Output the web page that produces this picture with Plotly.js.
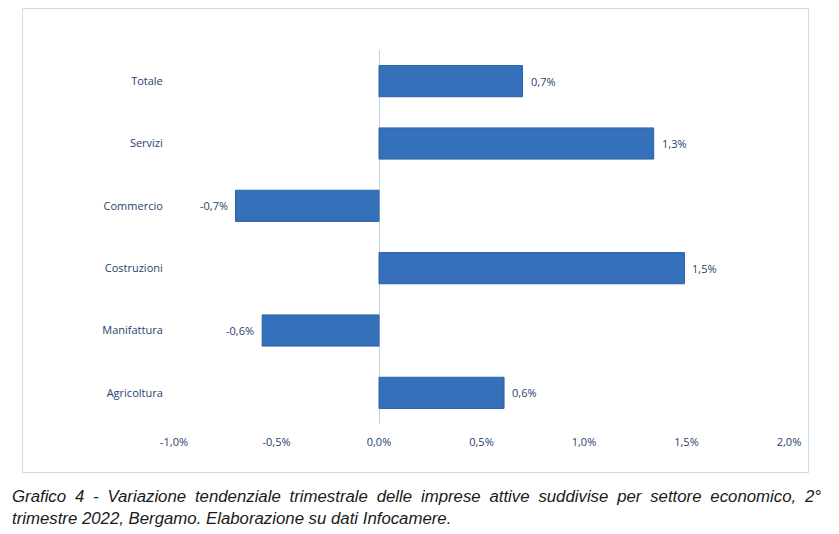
<!DOCTYPE html>
<html>
<head>
<meta charset="utf-8">
<script src="https://cdn.plot.ly/plotly-3.0.1.min.js"></script>
<style>
  body { margin: 0; background: #fff; }
  #wrap { position: relative; width: 839px; height: 534px; }
  #chart { position: absolute; left: 0; top: 0; width: 839px; height: 534px; }
  #frame { position: absolute; left: 22px; top: 8px; width: 785px; height: 463px;
           border: 1px solid #c9dcf0; pointer-events: none; }
  #caption { position: absolute; left: 12px; top: 486px; width: 809px;
             font-family: "Liberation Sans", Arial, sans-serif; font-style: italic;
             font-size: 16.8px; line-height: 22px; color: #1a1a1a; }
  #caption .l1 { text-align: justify; text-align-last: justify; white-space: nowrap; }
</style>
</head>
<body>
<div id="wrap">
  <div id="chart"></div>
  <div id="frame"></div>
  <div id="caption">
    <div class="l1">Grafico 4 - Variazione tendenziale trimestrale delle imprese attive suddivise per settore economico, 2°</div>
    <div>trimestre 2022, Bergamo. Elaborazione su dati Infocamere.</div>
  </div>
</div>
<script>
// settori, dall'alto in basso
const sectors = ["Totale", "Servizi", "Commercio", "Costruzioni", "Manifattura", "Agricoltura"]
const variation = [0.70, 1.34, -0.70, 1.49, -0.57, 0.61]
const tickValues = [-1.0, -0.5, 0.0, 0.5, 1.0, 1.5, 2.0]
const tickLabels = ["-1,0%", "-0,5%", "0,0%", "0,5%", "1,0%", "1,5%", "2,0%"]

function pctLabel(v) {
  return v.toFixed(1).replace(".", ",") + "%"
}

var textColor = "#1f3f6e"

var trace = {
  type: "bar",
  orientation: "h",
  x: variation,
  y: sectors,
  marker: { color: "#3570ba", line: { color: "#2e62a4", width: 1 } },
  hoverinfo: "none"
}

var annotations = sectors.map((s, i) => ({
  x: variation[i],
  y: s,
  xref: "x",
  yref: "y",
  text: pctLabel(variation[i]),
  showarrow: false,
  xanchor: variation[i] >= 0 ? "left" : "right",
  xshift: variation[i] >= 0 ? 6 : -6,
  font: { family: "Open Sans", size: 11, color: textColor }
}))

var layout = {
  width: 839,
  height: 534,
  margin: { l: 174, r: 50, t: 50, b: 110 },
  paper_bgcolor: "rgba(0,0,0,0)",
  plot_bgcolor: "rgba(0,0,0,0)",
  showlegend: false,
  bargap: 0.5,
  font: { family: "Open Sans", size: 11, color: textColor },
  xaxis: {
    range: [-1, 2],
    tickvals: tickValues,
    ticktext: tickLabels,
    showgrid: false,
    zeroline: true,
    zerolinecolor: "#bcd0ea",
    zerolinewidth: 1,
    showline: false,
    ticks: "outside",
    ticklen: 8,
    tickcolor: "rgba(0,0,0,0)",
    fixedrange: true
  },
  yaxis: {
    type: "category",
    autorange: "reversed",
    showgrid: false,
    zeroline: false,
    showline: false,
    ticks: "outside",
    ticklen: 8,
    tickcolor: "rgba(0,0,0,0)",
    fixedrange: true
  },
  annotations: annotations
}

Plotly.newPlot("chart", [trace], layout, {displayModeBar: false, staticPlot: true})
</script>
</body>
</html>
